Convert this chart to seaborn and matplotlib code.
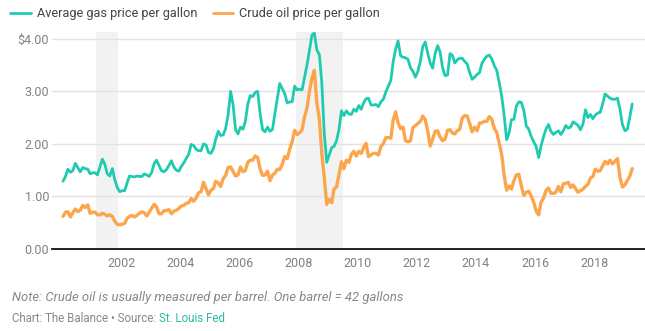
import matplotlib
matplotlib.use("Agg")
import matplotlib.pyplot as plt
import seaborn as sns
import pandas as pd
from matplotlib.lines import Line2D

# Monthly values, Jan 2000 - Apr 2019
gas = [
    1.29, 1.38, 1.52, 1.46, 1.49, 1.63, 1.55, 1.47, 1.55, 1.53, 1.52, 1.43,
    1.45, 1.45, 1.41, 1.56, 1.71, 1.61, 1.43, 1.39, 1.53, 1.32, 1.17, 1.09,
    1.11, 1.11, 1.25, 1.39, 1.38, 1.37, 1.39, 1.38, 1.38, 1.43, 1.41, 1.38,
    1.46, 1.63, 1.69, 1.59, 1.49, 1.47, 1.51, 1.59, 1.68, 1.56, 1.50, 1.48,
    1.57, 1.64, 1.72, 1.80, 1.99, 1.97, 1.90, 1.87, 1.87, 2.00, 1.98, 1.84,
    1.82, 1.91, 2.09, 2.24, 2.16, 2.17, 2.29, 2.55, 3.00, 2.75, 2.27, 2.19,
    2.32, 2.28, 2.42, 2.75, 2.92, 2.90, 2.98, 3.00, 2.57, 2.27, 2.23, 2.32,
    2.24, 2.28, 2.57, 2.86, 3.15, 3.05, 2.96, 2.78, 2.80, 2.80, 3.10, 3.03,
    3.04, 3.03, 3.26, 3.50, 3.77, 4.07, 4.11, 3.79, 3.70, 3.17, 2.19, 1.65,
    1.79, 1.93, 1.95, 2.06, 2.27, 2.63, 2.54, 2.63, 2.57, 2.56, 2.66, 2.62,
    2.73, 2.66, 2.78, 2.86, 2.87, 2.74, 2.74, 2.75, 2.71, 2.80, 2.85, 2.99,
    3.10, 3.21, 3.56, 3.80, 3.96, 3.68, 3.65, 3.64, 3.61, 3.45, 3.38, 3.27,
    3.38, 3.58, 3.85, 3.94, 3.73, 3.54, 3.44, 3.72, 3.87, 3.75, 3.45, 3.30,
    3.31, 3.72, 3.69, 3.54, 3.60, 3.63, 3.63, 3.57, 3.52, 3.36, 3.23, 3.27,
    3.32, 3.36, 3.53, 3.61, 3.67, 3.69, 3.62, 3.49, 3.40, 3.17, 2.91, 2.55,
    2.08, 2.21, 2.46, 2.47, 2.72, 2.80, 2.79, 2.64, 2.34, 2.28, 2.14, 2.04,
    1.95, 1.74, 1.96, 2.14, 2.28, 2.37, 2.24, 2.18, 2.22, 2.25, 2.18, 2.25,
    2.35, 2.30, 2.32, 2.42, 2.39, 2.35, 2.27, 2.38, 2.65, 2.50, 2.56, 2.48,
    2.55, 2.59, 2.60, 2.76, 2.95, 2.91, 2.87, 2.85, 2.85, 2.87, 2.66, 2.37,
    2.25, 2.28, 2.50, 2.76,
]
crude = [
    0.62, 0.70, 0.71, 0.61, 0.69, 0.76, 0.71, 0.74, 0.83, 0.79, 0.84, 0.68,
    0.70, 0.70, 0.65, 0.65, 0.68, 0.66, 0.63, 0.65, 0.62, 0.53, 0.47, 0.46,
    0.47, 0.49, 0.58, 0.62, 0.64, 0.61, 0.64, 0.68, 0.71, 0.69, 0.63, 0.70,
    0.78, 0.85, 0.80, 0.67, 0.67, 0.73, 0.73, 0.75, 0.67, 0.72, 0.74, 0.77,
    0.82, 0.83, 0.87, 0.88, 0.96, 0.91, 0.97, 1.07, 1.09, 1.27, 1.15, 1.03,
    1.12, 1.15, 1.29, 1.26, 1.19, 1.34, 1.40, 1.55, 1.56, 1.48, 1.39, 1.41,
    1.56, 1.47, 1.49, 1.65, 1.69, 1.69, 1.77, 1.74, 1.52, 1.40, 1.41, 1.48,
    1.30, 1.41, 1.44, 1.52, 1.51, 1.61, 1.76, 1.72, 1.90, 2.04, 2.26, 2.18,
    2.21, 2.27, 2.51, 2.68, 2.99, 3.25, 3.40, 2.78, 2.48, 1.82, 1.36, 0.85,
    0.95, 0.88, 1.14, 1.18, 1.41, 1.66, 1.53, 1.69, 1.65, 1.80, 1.86, 1.77,
    1.86, 1.82, 1.93, 2.01, 1.76, 1.79, 1.82, 1.82, 1.79, 1.95, 2.01, 2.12,
    2.12, 2.11, 2.45, 2.61, 2.40, 2.29, 2.32, 2.06, 2.04, 2.06, 2.31, 2.35,
    2.39, 2.43, 2.53, 2.46, 2.25, 1.96, 2.09, 2.24, 2.25, 2.13, 2.06, 2.09,
    2.26, 2.27, 2.21, 2.19, 2.25, 2.28, 2.49, 2.54, 2.53, 2.39, 2.23, 2.32,
    2.25, 2.40, 2.40, 2.43, 2.43, 2.52, 2.47, 2.30, 2.22, 2.01, 1.80, 1.41,
    1.12, 1.20, 1.14, 1.30, 1.41, 1.42, 1.21, 1.02, 1.08, 1.10, 1.01, 0.89,
    0.72, 0.65, 0.89, 0.97, 1.11, 1.16, 1.06, 1.06, 1.08, 1.19, 1.09, 1.24,
    1.25, 1.27, 1.17, 1.22, 1.15, 1.08, 1.11, 1.14, 1.19, 1.23, 1.35, 1.38,
    1.52, 1.48, 1.49, 1.58, 1.67, 1.62, 1.69, 1.62, 1.67, 1.72, 1.36, 1.18,
    1.22, 1.31, 1.38, 1.53,
]
series_names = ["Average gas price per gallon", "Crude oil price per gallon"]
colors = ["#1fcbb0", "#fba64c"]
recessions = [("2001-03-01", "2001-11-30"), ("2007-12-01", "2009-06-30")]
tick_years = [2002, 2004, 2006, 2008, 2010, 2012, 2014, 2016, 2018]
y_ticks = [0, 1, 2, 3, 4]
y_labels = ["0.00", "1.00", "2.00", "3.00", "$4.00"]

dates = pd.date_range("2000-01-01", periods=len(gas), freq="MS") + pd.Timedelta(days=14)
df = pd.concat([
    pd.DataFrame({"date": dates, "price": gas, "series": series_names[0]}),
    pd.DataFrame({"date": dates, "price": crude, "series": series_names[1]}),
])

sns.set_theme(style="white")
plt.rcParams["font.family"] = ["Roboto", "DejaVu Sans"]

fig = plt.figure(figsize=(6.45, 3.31), dpi=100)
ax = fig.add_axes([52 / 645, (331 - 249) / 331, 1 - 52 / 645, (249 - 32) / 331])

for a, b in recessions:
    ax.axvspan(pd.Timestamp(a), pd.Timestamp(b), color="#f2f2f2", lw=0, zorder=0)

for yv in y_ticks[1:]:
    ax.axhline(yv, color="#e3e3e3", lw=1, zorder=1)

sns.lineplot(data=df, x="date", y="price", hue="series", palette=dict(zip(series_names, colors)),
             size="series", sizes={series_names[0]: 2.0, series_names[1]: 2.4},
             ax=ax, legend=False, zorder=3)

ax.set_xlim(pd.Timestamp("1999-09-01"), pd.Timestamp("2019-09-20"))
ax.set_ylim(0, 4.13)
ax.set_xticks([pd.Timestamp(f"{y}-01-01") for y in tick_years])
ax.set_xticklabels([str(y) for y in tick_years])
ax.set_yticks(y_ticks)
ax.set_yticklabels(y_labels)
ax.set_xlabel("")
ax.set_ylabel("")
ax.tick_params(axis="both", length=0, labelsize=9, colors="#808080")
ax.tick_params(axis="y", pad=2)
ax.tick_params(axis="x", pad=6)
for s in ["top", "right", "left"]:
    ax.spines[s].set_visible(False)
ax.spines["bottom"].set_color("#111111")
ax.spines["bottom"].set_linewidth(1.3)
ax.spines["bottom"].set_zorder(4)

# Legend
handles = [Line2D([0], [0], color=c, lw=2) for c in colors]
leg = fig.legend(handles, series_names, loc="upper left", bbox_to_anchor=(5 / 645, 1 - 2 / 331),
                 ncol=2, frameon=False, fontsize=9.2, handlelength=1.6, handletextpad=0.5,
                 columnspacing=1.2, borderaxespad=0)
for t in leg.get_texts():
    t.set_color("#444444")

fig.text(12 / 645, 1 - 298 / 331, "Note: Crude oil is usually measured per barrel. One barrel = 42 gallons",
         fontsize=9.4, style="italic", color="#888888", va="center", ha="left")
t1 = fig.text(12 / 645, 1 - 318 / 331, "Chart: The Balance \u2022 Source: ", fontsize=8.3, color="#888888",
              va="center", ha="left")
fig.canvas.draw()
bb = t1.get_window_extent()
fig.text(bb.x1 / 645, 1 - 318 / 331, "St. Louis Fed", fontsize=8.3, color="#2bbba3", va="center", ha="left")

fig.savefig("out.png", dpi=100)
